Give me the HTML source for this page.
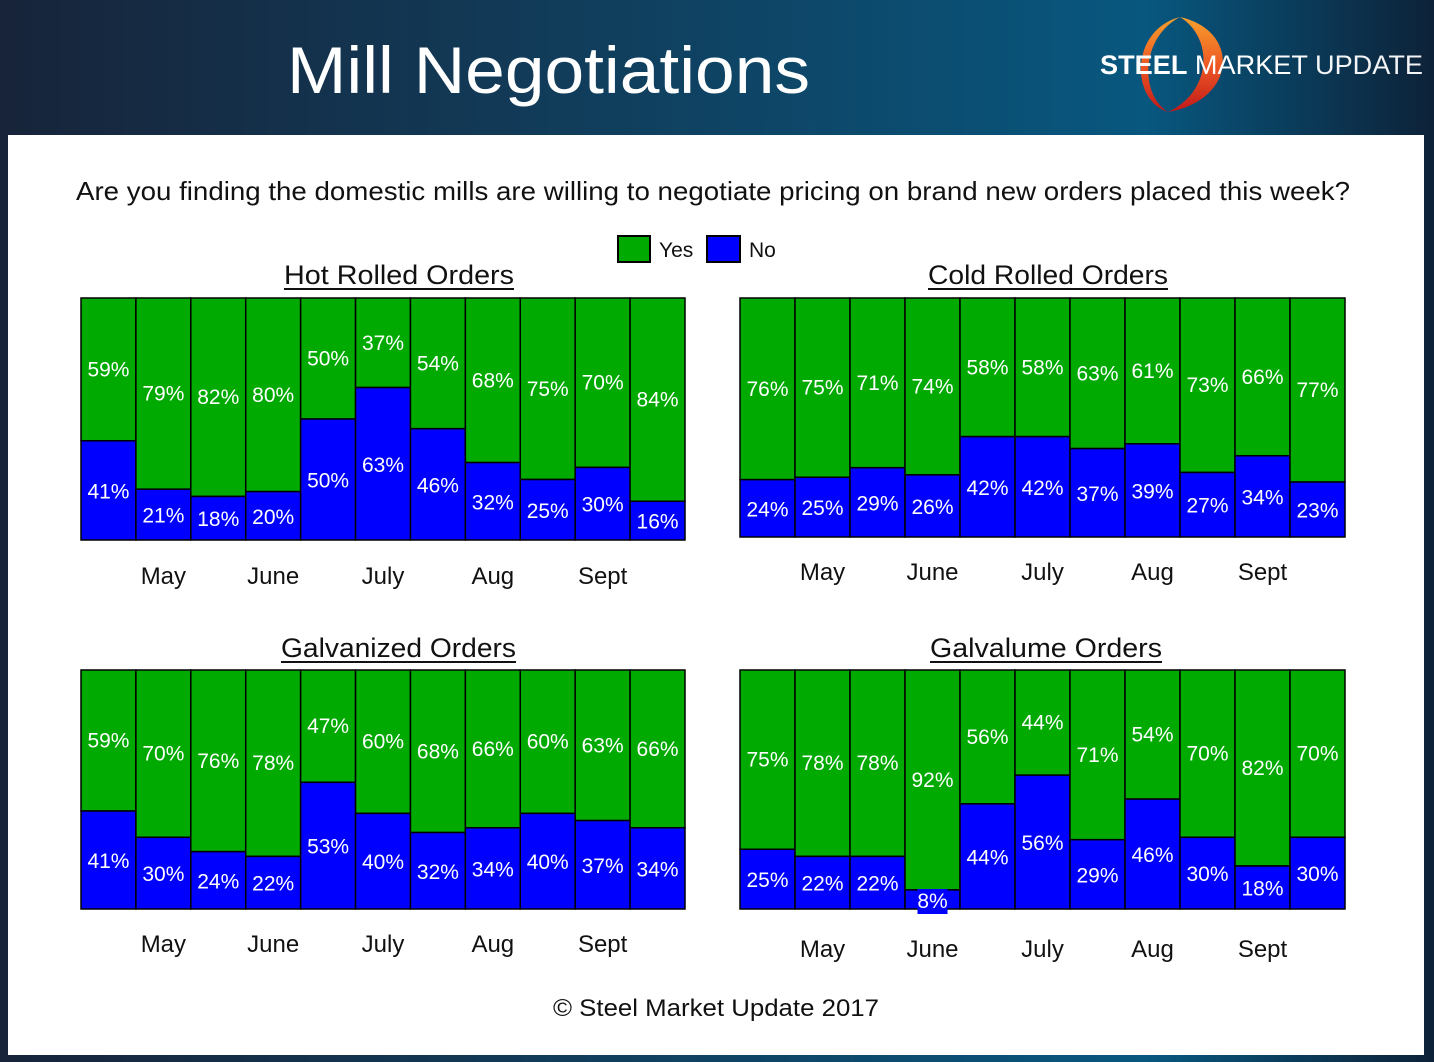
<!DOCTYPE html>
<html><head><meta charset="utf-8"><style>
html,body{margin:0;padding:0;background:#0e2238;}
svg{display:block;font-family:"Liberation Sans",sans-serif;}
</style></head><body>
<svg id="root" width="1434" height="1062" viewBox="0 0 1434 1062" xmlns="http://www.w3.org/2000/svg">
<defs>
<linearGradient id="hdr" x1="0" x2="1" y1="0" y2="0">
<stop offset="0" stop-color="#17243a"/><stop offset="0.45" stop-color="#10405f"/><stop offset="0.8" stop-color="#08577f"/><stop offset="1" stop-color="#0d2238"/>
</linearGradient>
<linearGradient id="arc" x1="0" x2="0" y1="0" y2="1"><stop offset="0" stop-color="#f7a02c"/><stop offset="0.5" stop-color="#ee5a24"/><stop offset="1" stop-color="#c0181a"/></linearGradient>
</defs>
<rect x="0" y="0" width="1434" height="1062" fill="url(#hdr)"/>
<rect x="8" y="135" width="1416" height="920" fill="#ffffff"/>
<text x="287" y="93" font-size="66" fill="#fff" textLength="523" lengthAdjust="spacingAndGlyphs">Mill Negotiations</text>
<g>
<path d="M1180 17 C1240 30 1238 100 1168 112 C1212 92 1214 38 1180 17 Z" fill="url(#arc)"/>
<path d="M1180 17 C1130 30 1130 100 1168 112 C1140 95 1140 38 1180 17 Z" fill="url(#arc)"/>
<text x="1100" y="74" font-size="27" fill="#fff" textLength="323" lengthAdjust="spacingAndGlyphs"><tspan font-weight="bold">STEEL</tspan> MARKET <tspan font-weight="normal" opacity="0.95">UPDATE</tspan></text>
</g>
<text x="76" y="200" font-size="26" fill="#111" textLength="1274" lengthAdjust="spacingAndGlyphs">Are you finding the domestic mills are willing to negotiate pricing on brand new orders placed this week?</text>
<g>
<rect x="618" y="236" width="32" height="26" fill="#00aa00" stroke="#000" stroke-width="2"/>
<text x="659" y="257" font-size="21" fill="#111">Yes</text>
<rect x="707" y="236" width="33" height="26" fill="#0000ff" stroke="#000" stroke-width="2"/>
<text x="749" y="257" font-size="21" fill="#111">No</text>
</g>
<text x="716" y="1016" font-size="24" fill="#111" text-anchor="middle" textLength="326" lengthAdjust="spacingAndGlyphs">© Steel Market Update 2017</text>
<g id="charts"></g>
</svg>
<script>
const months = ["May","June","July","Aug","Sept"];
const monthBarIndex = [1,3,5,7,9];
const hotYes = [59,79,82,80,50,37,54,68,75,70,84];
const hotNo = [41,21,18,20,50,63,46,32,25,30,16];
const coldYes = [76,75,71,74,58,58,63,61,73,66,77];
const coldNo = [24,25,29,26,42,42,37,39,27,34,23];
const galvYes = [59,70,76,78,47,60,68,66,60,63,66];
const galvNo = [41,30,24,22,53,40,32,34,40,37,34];
const galvalumeYes = [75,78,78,92,56,44,71,54,70,82,70];
const galvalumeNo = [25,22,22,8,44,56,29,46,30,18,30];
const charts = [
 {name:"hot-rolled",title:"Hot Rolled Orders",yes:hotYes,no:hotNo,x:81,y:298,w:604,h:242,ty:284,my:584,tx1:284,tx2:514},
 {name:"cold-rolled",title:"Cold Rolled Orders",yes:coldYes,no:coldNo,x:740,y:298,w:605,h:239,ty:284,my:580,tx1:928,tx2:1168},
 {name:"galvanized",title:"Galvanized Orders",yes:galvYes,no:galvNo,x:81,y:670,w:604,h:239,ty:657,my:952,tx1:281,tx2:516},
 {name:"galvalume",title:"Galvalume Orders",yes:galvalumeYes,no:galvalumeNo,x:740,y:670,w:605,h:239,ty:657,my:957,tx1:930,tx2:1162}
];
const NS="http://www.w3.org/2000/svg";
const root=document.getElementById("charts");
function mk(tag,attrs,parent){const e=document.createElementNS(NS,tag);for(const k in attrs)e.setAttribute(k,attrs[k]);parent.appendChild(e);return e;}
charts.forEach(c=>{
 const g=mk("g",{},root);
 
 
 const n=c.yes.length, bw=c.w/n;
 const xs=i=>c.x+i*bw;
 const ys=v=>c.h*v/100;
 const t=mk("text",{x:c.tx1,y:c.ty,"font-size":27,fill:"#111",textLength:c.tx2-c.tx1,lengthAdjust:"spacingAndGlyphs"},g);
 t.textContent=c.title;
 
 
 const ul=mk("line",{x1:c.tx1,x2:c.tx2,y1:c.ty+5,y2:c.ty+5,stroke:"#111","stroke-width":2},g);
 
 
 for(let i=0;i<n;i++){
  const tot=c.yes[i]+c.no[i];
  const hy=ys(c.yes[i]/tot*100), hn=c.h-hy;
  const ry=mk("rect",{x:xs(i),y:c.y,width:bw,height:hy,fill:"#00aa00",stroke:"#000","stroke-width":1.5},g);
  
  
  const rn=mk("rect",{x:xs(i),y:c.y+hy,width:bw,height:hn,fill:"#0000ff",stroke:"#000","stroke-width":1.5},g);
  
  
  const ly=mk("text",{x:xs(i)+bw/2,y:c.y+hy/2+7,"font-size":21,fill:"#fff","text-anchor":"middle"},g);
  ly.textContent=c.yes[i]+"%";
  
  
  let ny=c.y+hy+hn/2+8;
  if(hn<30){
   ny=c.y+c.h-1;
   const bg=mk("rect",{x:xs(i)+bw/2-15,y:ny-19,width:30,height:25,fill:"#0000ff"},g);
   
   
  }
  const ln=mk("text",{x:xs(i)+bw/2,y:ny,"font-size":21,fill:"#fff","text-anchor":"middle"},g);
  ln.textContent=c.no[i]+"%";
  
  
 }
 months.forEach((m,j)=>{
  const mt=mk("text",{x:xs(monthBarIndex[j])+bw/2,y:c.my,"font-size":24,fill:"#111","text-anchor":"middle"},g);
  mt.textContent=m;
  
  
 });
});
</script>
</body></html>
